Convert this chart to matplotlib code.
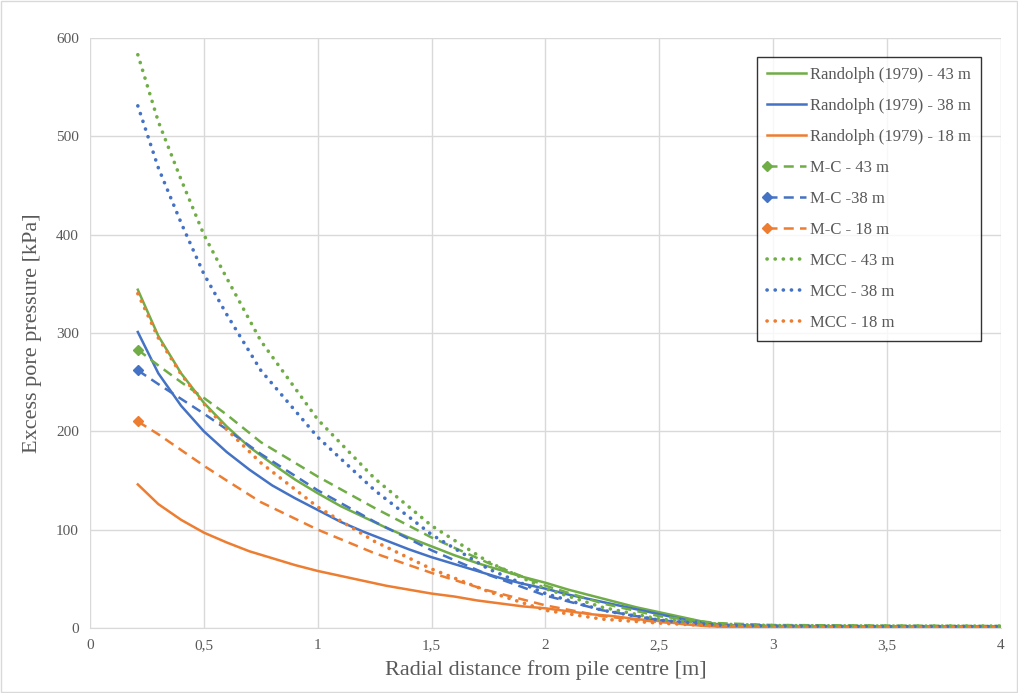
import matplotlib
matplotlib.use('Agg')
import matplotlib.pyplot as plt
from matplotlib.patches import Rectangle
from matplotlib.ticker import FuncFormatter
from matplotlib.legend_handler import HandlerLine2D

# Radial distance [m] and excess pore pressure [kPa]
r_randolph = [0.21, 0.3, 0.4, 0.5, 0.6, 0.7, 0.8, 0.9, 1.0, 1.1, 1.2, 1.3, 1.4,
              1.5, 1.6, 1.7, 1.8, 1.9, 2.0, 2.1, 2.2, 2.3, 2.4, 2.5, 2.6, 2.7,
              2.8, 3.0, 3.5, 4.0]
randolph_43 = [344, 297, 259, 229, 205, 184, 167, 151, 137, 124, 113, 102, 92,
               83, 74, 66, 59, 52, 46, 39, 33, 27, 21, 16, 11, 6, 2, 1, 1, 1]
randolph_38 = [301, 259, 226, 200, 179, 161, 145, 132, 120, 108, 98, 89, 80,
               72, 65, 58, 51, 45, 40, 34, 29, 24, 19, 14, 9, 5, 2, 1, 1, 1]
randolph_18 = [146, 126, 110, 97, 87, 78, 71, 64, 58, 53, 48, 43, 39,
               35, 32, 28, 25, 22, 20, 17, 14, 12, 9, 7, 4, 2, 1, 0.5, 0.5, 0.5]

r_num = [0.21, 0.3, 0.4, 0.5, 0.6, 0.75, 1.0, 1.25, 1.5, 1.75, 2.0, 2.25,
         2.5, 2.75, 3.0, 3.5, 4.0]
mc_43 = [283, 267, 250, 234, 217, 189, 154, 122, 92, 66, 43, 25, 12, 5, 3, 2.5, 2]
mc_38 = [262, 248, 233, 218, 202, 177, 140, 108, 79, 54, 33, 18, 8, 3, 2, 1.5, 1.5]
mc_18 = [210, 197, 181, 165, 150, 128, 100, 76, 56, 38, 23, 12, 6, 2.5, 1.5, 1, 1]
mcc_43 = [583, 515, 456, 400, 356, 292, 212, 152, 104, 67, 40, 21, 9, 4, 2.5, 2, 2]
mcc_38 = [531, 468, 412, 360, 319, 262, 194, 140, 95, 60, 35, 18, 8, 3, 2, 1.5, 1.5]
mcc_18 = [340, 295, 258, 228, 202, 168, 123, 88, 60, 37, 18, 9, 5, 2, 1, 1, 1]

GREEN = '#70AD47'
BLUE = '#4472C4'
ORANGE = '#ED7D31'
TEXT = '#595959'
GRID = '#D9D9D9'


class LeftMarkerHandler(HandlerLine2D):
    # Excel draws the series marker at the start of the legend sample
    def create_artists(self, *args, **kwargs):
        artists = super().create_artists(*args, **kwargs)
        for a in artists:
            a.set_markevery([0])
        return artists


plt.rcParams['font.family'] = ['Liberation Serif', 'DejaVu Serif']

fig = plt.figure(figsize=(10.18, 6.93), dpi=100)
ax = fig.add_axes([0.0884, 0.0938, 0.8949, 0.8514])

# chart border
fig.patches.append(Rectangle((0.001, 0.001), 0.998, 0.998, transform=fig.transFigure,
                             fill=False, edgecolor=GRID, linewidth=1))

lw = 1.8
dash = (0, (4, 2.5))
dot = (0, (0.05, 2.2))

ax.plot(r_randolph, randolph_43, color=GREEN, lw=lw, label='Randolph (1979) - 43 m')
ax.plot(r_randolph, randolph_38, color=BLUE, lw=lw, label='Randolph (1979) - 38 m')
ax.plot(r_randolph, randolph_18, color=ORANGE, lw=lw, label='Randolph (1979) - 18 m')

mc_lines = []
for y, c, lab in [(mc_43, GREEN, 'M-C - 43 m'), (mc_38, BLUE, 'M-C -38 m'),
                  (mc_18, ORANGE, 'M-C - 18 m')]:
    ln, = ax.plot(r_num, y, color=c, lw=lw, linestyle=dash, marker='D', markersize=5,
                  markevery=[0], label=lab)
    mc_lines.append(ln)

for y, c, lab in [(mcc_43, GREEN, 'MCC - 43 m'), (mcc_38, BLUE, 'MCC - 38 m'),
                  (mcc_18, ORANGE, 'MCC - 18 m')]:
    ax.plot(r_num, y, color=c, lw=2.6, linestyle=dot, dash_capstyle='round',
            label=lab)

ax.set_xlim(0, 4)
ax.set_ylim(0, 600)
ax.set_xticks([0, 0.5, 1, 1.5, 2, 2.5, 3, 3.5, 4])
ax.set_yticks(range(0, 601, 100))
ax.xaxis.set_major_formatter(FuncFormatter(lambda v, p: ('%g' % v).replace('.', ',')))
ax.grid(True, color=GRID, linewidth=1)
ax.set_axisbelow(True)
for s in ['top', 'right', 'left']:
    ax.spines[s].set_visible(False)
ax.spines['bottom'].set_color(GRID)
ax.tick_params(length=0, labelsize=11, colors=TEXT, pad=8)

ax.set_xlabel('Radial distance from pile centre [m]', fontsize=16, color=TEXT, labelpad=6)
ax.set_ylabel('Excess pore pressure [kPa]', fontsize=16, color=TEXT, labelpad=10)

leg = ax.legend(loc='upper right', bbox_to_anchor=(0.978, 0.968), borderaxespad=0,
                fontsize=12, frameon=True, fancybox=False, edgecolor='black',
                handlelength=2.3, handletextpad=0.25, labelspacing=0.9,
                borderpad=0.6, numpoints=1,
                handler_map={ln: LeftMarkerHandler() for ln in mc_lines})
leg.get_frame().set_linewidth(1)
for t in leg.get_texts():
    t.set_color(TEXT)

fig.savefig('out.png', dpi=100)
